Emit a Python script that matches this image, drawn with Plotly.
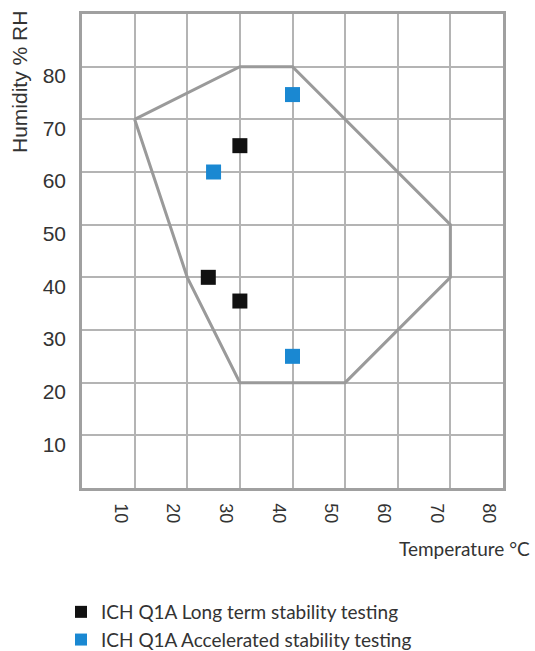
import plotly.graph_objects as go

# Data
zone_temp = [10, 30, 40, 70, 70, 50, 30, 20, 10]
zone_hum = [70, 80, 80, 50, 40, 20, 20, 40, 70]

long_term_temp = [30, 24, 30]
long_term_hum = [65, 40, 35.5]

accel_temp = [25, 40, 40]
accel_hum = [60, 74.7, 25]

tick_vals = [10, 20, 30, 40, 50, 60, 70, 80]
tick_text = ["10", "20", "30", "40", "50", "60", "70", "80"]

series_names = ["ICH Q1A Long term stability testing", "ICH Q1A Accelerated stability testing"]

fig = go.Figure()
fig.add_trace(go.Scatter(x=zone_temp, y=zone_hum, mode="lines",
                         line=dict(color="#9a9a9a", width=3), showlegend=False, hoverinfo="skip"))
fig.add_trace(go.Scatter(x=long_term_temp, y=long_term_hum, mode="markers", name=series_names[0],
                         marker=dict(symbol="square", size=15, color="#111111")))
fig.add_trace(go.Scatter(x=accel_temp, y=accel_hum, mode="markers", name=series_names[1],
                         marker=dict(symbol="square", size=15, color="#1a88d2")))

xfont = dict(family="Liberation Sans, Arial, sans-serif", size=18, color="#333333")
yfont = dict(family="Liberation Sans, Arial, sans-serif", size=21, color="#333333")
hfont = dict(family="Lato, sans-serif", size=19, color="#333333")

FW, FH = 535, 651
L, T, W, H = 82, 14, 421, 474

fig.update_layout(
    width=FW, height=FH,
    margin=dict(l=L, r=FW - L - W, t=T, b=FH - T - H, autoexpand=False),
    paper_bgcolor="white", plot_bgcolor="white",
    showlegend=True, hovermode=False,
    legend=dict(xref="container", yref="container", x=61 / FW, y=(FH - 593) / FH,
                xanchor="left", yanchor="top",
                font=hfont, tracegroupgap=0, itemsizing="constant", bgcolor="rgba(0,0,0,0)"),
    xaxis=dict(range=[0, 80], tickvals=tick_vals, ticktext=tick_text, tickangle=90,
               showgrid=True, gridcolor="#b4b4b4", gridwidth=1.5, zeroline=False,
               showline=True, linecolor="#a0a0a0", linewidth=2.5, mirror=True,
               tickfont=xfont, ticks="", ticklabelshift=-14,
               ticklabelstandoff=9, fixedrange=True, automargin=False),
    yaxis=dict(range=[0, 90], tickvals=tick_vals, ticktext=tick_text,
               showgrid=True, gridcolor="#b4b4b4", gridwidth=1.5, zeroline=False,
               showline=True, linecolor="#a0a0a0", linewidth=2.5, mirror=True,
               tickfont=yfont, ticks="", ticklabelshift=9,
               ticklabelstandoff=9, fixedrange=True, automargin=False),
    annotations=[
        dict(text="Humidity % RH", x=(19 - L) / W, y=(T + H - 82) / H, xref="paper", yref="paper",
             showarrow=False, textangle=-90, xanchor="center", yanchor="middle",
             font=dict(family="Liberation Sans, Arial, sans-serif", size=21, color="#333333")),
        dict(text="Temperature °C", x=(532 - L) / W, y=(T + H - 548) / H, xref="paper", yref="paper",
             showarrow=False, xanchor="right", yanchor="middle", font=hfont),
    ],
)

fig.write_html("out.html", config={"displayModeBar": False},
               post_script="document.body.style.margin='0px';")
